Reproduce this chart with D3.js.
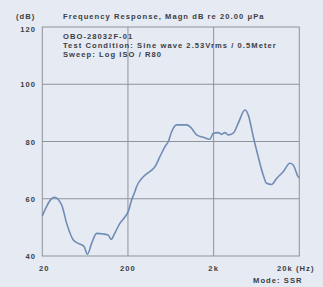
<!DOCTYPE html>
<html><head><meta charset="utf-8">
<script src="https://cdn.jsdelivr.net/npm/d3@7"></script>
<style>
html,body{margin:0;padding:0;background:#e6eaf2;}
svg{display:block;font-family:"Liberation Sans",Arial,sans-serif;}
</style></head>
<body>
<script>
const freqs = [20,27.6,33.7,38.5,46,52.6,61.4,67.3,75.3,86.3,103,118,127,141,161,180,201,221,241,252,302,378,413,472,541,590,647,740,968,1107,1264,1512,1810,1978,2265,2478,2710,2960,3390,3875,4635,5070,5800,6625,7585,8300,9500,10870,12970,15520,16980,19420,20000];
const dbs   = [54,60.5,57.8,51.4,45.6,44.4,43.3,40.6,44.4,47.9,47.7,47.3,45.8,48.1,51.4,53.2,55.5,59.6,62.5,64.2,67.7,70,71.2,74.7,78.2,79.9,83.4,85.8,85.8,84.6,82.3,81.5,80.8,82.9,83.1,82.5,83.1,82.3,82.9,86.4,91,89.3,81.7,74.7,68.3,65.4,65,67.1,69.4,72.4,71.8,67.7,67.3];
const xTicks = [20,200,2000,20000];
const xTickLabels = ["20","200","2k","20k (Hz)"];
const yTicks = [40,60,80,100,120];
const title = "Frequency Response, Magn dB re 20.00 \u03bcPa";
const notes = ["OBO-28032F-01","Test Condition: Sine wave 2.53Vrms / 0.5Meter","Sweep: Log ISO / R80"];

const W=323,H=287;
const svg=d3.select("body").append("svg").attr("width",W).attr("height",H);
const x=d3.scaleLog().domain([20,20000]).range([42.3,299.3]);
const y=d3.scaleLinear().domain([40,120]).range([256,27]);
const grid="#8e939c", txt="#3a3e46";

const g=svg.append("g");
g.selectAll("line.v").data(xTicks.slice(1,3)).enter().append("line")
 .attr("x1",d=>x(d)).attr("x2",d=>x(d)).attr("y1",y(120)).attr("y2",y(40))
 .attr("stroke",grid).attr("stroke-width",1);
g.selectAll("line.h").data(yTicks.slice(1,4)).enter().append("line")
 .attr("y1",d=>y(d)).attr("y2",d=>y(d)).attr("x1",x(20)).attr("x2",x(20000))
 .attr("stroke",grid).attr("stroke-width",1);
g.append("rect").attr("x",x(20)).attr("y",y(120)).attr("width",x(20000)-x(20)).attr("height",y(40)-y(120))
 .attr("fill","none").attr("stroke",grid).attr("stroke-width",1);

const line=d3.line().x((d,i)=>x(freqs[i])).y(d=>y(d)).curve(d3.curveMonotoneX);
svg.append("path").datum(dbs).attr("d",line).attr("fill","none")
 .attr("stroke","#6f8cb6").attr("stroke-width",1.6).attr("stroke-linejoin","round");

const T=s=>s.attr("font-size",7.6).attr("font-weight","bold").attr("letter-spacing",1.05).attr("fill",txt);
// y labels
svg.selectAll("text.y").data(yTicks).enter().append("text")
 .attr("x",36).attr("y",d=>y(d)+(d===120?5:3)).attr("text-anchor","end")
 .call(T).text(d=>d);
// x labels
svg.selectAll("text.x").data(xTicks).enter().append("text")
 .attr("x",(d,i)=>i===3?277:x(d)+(i===0?2:0)).attr("y",271)
 .attr("text-anchor",(d,i)=>i===3?"start":"middle")
 .call(T).text((d,i)=>xTickLabels[i]);

svg.append("text").attr("x",16).attr("y",18.5).call(T).text("(dB)");
svg.append("text").attr("x",63).attr("y",18.5).call(T).text(title);
svg.selectAll("text.n").data(notes).enter().append("text")
 .attr("x",63).attr("y",(d,i)=>39+i*8.8).call(T).text(d=>d);
svg.append("text").attr("x",253).attr("y",283).call(T).text("Mode: SSR");
</script>
</body></html>
